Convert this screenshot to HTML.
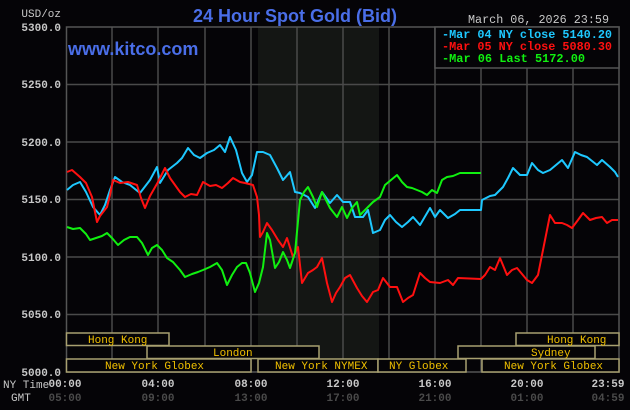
<!DOCTYPE html>
<html><head><meta charset="utf-8"><style>
html,body{margin:0;padding:0;background:#050407;}
svg{display:block}
text{font-family:"Liberation Mono","DejaVu Sans Mono",monospace;}
</style></head><body>
<svg width="630" height="410" xmlns="http://www.w3.org/2000/svg">
<rect width="630" height="410" fill="#050407"/>
<rect x="258" y="27" width="121" height="345" fill="#141614"/>
<g stroke="#4a4a4a" stroke-width="1.5">
<line x1="112" y1="27" x2="112" y2="372"/><line x1="158" y1="27" x2="158" y2="372"/>
<line x1="205" y1="27" x2="205" y2="372"/><line x1="251" y1="27" x2="251" y2="372"/>
<line x1="297" y1="27" x2="297" y2="372"/><line x1="343" y1="27" x2="343" y2="372"/>
<line x1="389" y1="27" x2="389" y2="372"/><line x1="435" y1="27" x2="435" y2="372"/>
<line x1="481" y1="27" x2="481" y2="372"/><line x1="527" y1="27" x2="527" y2="372"/>
<line x1="573" y1="27" x2="573" y2="372"/>
<line x1="66" y1="84.5" x2="619" y2="84.5"/><line x1="66" y1="142" x2="619" y2="142"/>
<line x1="66" y1="199.5" x2="619" y2="199.5"/><line x1="66" y1="257" x2="619" y2="257"/>
<line x1="66" y1="314.5" x2="619" y2="314.5"/>
</g>
<rect x="66.5" y="27" width="552.5" height="345" fill="none" stroke="#555" stroke-width="1.5"/>
<g fill="none" stroke-width="2" stroke-linejoin="round">
<polyline stroke="#1ec8ff" points="67,190 73,185 80,182 86,192 93,207 100,215 105,205 110,190 115,177 122,182 130,185 140,193 150,180 157,167 160,183 168,170 177,163 182,158 188,148 194,155 200,158 207,153 214,150 220,145 225,152 230,137 236,150 242,173 247,182 252,175 257,152 263,152 270,155 277,168 283,180 290,172 295,192 300,193 308,197 315,208 322,192 330,203 337,195 343,202 350,202 355,217 363,217 368,210 373,233 380,230 385,220 390,215 396,222 402,227 408,222 413,217 420,225 430,208 435,217 440,210 448,218 455,214 460,210 481,210 482,200 490,196 495,195 503,187 508,178 513,168 520,175 527,175 532,163 538,170 543,173 550,170 556,165 562,160 568,168 575,152 581,155 587,157 592,161 597,165 602,160 610,167 615,172 618,177"/>
<polyline stroke="#ff1010" points="67,172 72,170 80,177 86,183 92,197 97,222 100,216 107,207 110,195 113,180 120,183 128,182 137,185 141,198 145,208 150,196 158,182 165,168 170,178 175,185 180,192 185,197 191,194 197,195 203,182 210,186 216,185 222,188 228,183 233,178 240,182 245,183 253,185 257,197 259,215 260,237 263,232 267,223 272,230 278,240 283,247 287,238 293,257 298,247 302,283 308,273 313,270 317,267 322,258 327,283 332,302 336,293 340,287 345,278 350,275 357,288 362,296 367,302 373,292 378,290 383,278 390,287 397,287 403,302 408,298 413,295 420,273 425,278 430,282 440,283 448,280 453,285 458,278 481,279 485,275 490,267 495,270 500,258 507,275 512,270 517,268 522,274 527,280 532,283 538,275 542,255 545,240 550,215 555,223 562,223 567,225 572,228 578,220 583,213 590,220 596,218 602,217 607,223 612,220 618,220"/>
<polyline stroke="#10f010" points="67,227 73,229 80,228 86,234 90,240 96,238 102,236 107,233 112,238 118,245 124,240 130,237 137,237 142,243 148,255 152,248 157,245 162,250 167,258 173,262 180,270 185,277 192,274 198,272 203,270 210,267 217,263 222,270 227,285 232,275 237,267 242,263 246,263 250,273 255,292 259,283 263,267 267,233 270,240 275,268 279,262 283,252 287,260 290,268 295,253 300,200 304,192 308,187 313,197 317,207 322,192 326,200 330,208 337,217 342,207 347,218 352,208 357,202 360,215 367,208 373,202 380,197 385,185 391,180 397,175 402,182 407,187 412,188 417,190 422,192 427,195 432,190 437,193 442,180 447,177 453,176 460,173 481,173"/>
</g>
<g fill="#050407" stroke="#a8a070" stroke-width="1.5">
<rect x="66.5" y="333" width="102.5" height="12.5"/>
<rect x="516" y="333" width="103" height="12.5"/>
<rect x="147" y="346" width="172" height="12.5"/>
<rect x="458" y="346" width="137" height="12.5"/>
<rect x="66.5" y="359" width="184.5" height="13"/>
<rect x="258" y="359" width="120" height="13"/>
<rect x="378" y="359" width="88" height="13"/>
<rect x="482" y="359" width="137" height="13"/>
</g>
<g fill="#f0c000" font-size="11">
<text x="88" y="343">Hong Kong</text>
<text x="547" y="343">Hong Kong</text>
<text x="213" y="356">London</text>
<text x="531" y="356">Sydney</text>
<text x="105" y="369">New York Globex</text>
<text x="275" y="369">New York NYMEX</text>
<text x="389" y="369">NY Globex</text>
<text x="504" y="369">New York Globex</text>
</g>
<g fill="#c8c8c8" font-size="11" text-anchor="end" font-weight="bold">
<text x="61" y="31">5300.0</text><text x="61" y="88">5250.0</text>
<text x="61" y="146">5200.0</text><text x="61" y="203">5150.0</text>
<text x="61" y="261">5100.0</text><text x="61" y="318">5050.0</text>
<text x="61" y="376">5000.0</text>
</g>
<text x="61" y="17" fill="#c8c8c8" font-size="11" text-anchor="end">USD/oz</text>
<g fill="#c8c8c8" font-size="11" font-weight="bold" text-anchor="middle">
<text x="65" y="387">00:00</text><text x="158" y="387">04:00</text>
<text x="251" y="387">08:00</text><text x="343" y="387">12:00</text>
<text x="435" y="387">16:00</text><text x="527" y="387">20:00</text>
<text x="608" y="387">23:59</text>
</g>
<g fill="#4a4a4a" font-size="11" font-weight="bold" text-anchor="middle">
<text x="65" y="401">05:00</text><text x="158" y="401">09:00</text>
<text x="251" y="401">13:00</text><text x="343" y="401">17:00</text>
<text x="435" y="401">21:00</text><text x="527" y="401">01:00</text>
<text x="608" y="401">04:59</text>
</g>
<text x="3" y="388" fill="#c8c8c8" font-size="11">NY Time</text>
<text x="11" y="401" fill="#c8c8c8" font-size="11">GMT</text>
<text x="295" y="22" fill="#4a6ee8" font-size="18" font-weight="bold" text-anchor="middle" style="font-family:'Liberation Sans',sans-serif">24 Hour Spot Gold (Bid)</text>
<text x="68" y="55" fill="#4a6ee8" font-size="18" font-weight="bold" style="font-family:'Liberation Sans',sans-serif">www.kitco.com</text>
<text x="468" y="23" fill="#c8c8c8" font-size="11.5" textLength="141" lengthAdjust="spacingAndGlyphs">March 06, 2026 23:59</text>
<rect x="435" y="27" width="184" height="41" fill="#050407" stroke="#555" stroke-width="1.5"/>
<g font-size="11.5" font-weight="bold">
<text x="442" y="38" fill="#1ec8ff" textLength="170" lengthAdjust="spacingAndGlyphs">-Mar 04 NY close 5140.20</text>
<text x="442" y="50" fill="#ff1010" textLength="170" lengthAdjust="spacingAndGlyphs">-Mar 05 NY close 5080.30</text>
<text x="442" y="62" fill="#10f010" textLength="143" lengthAdjust="spacingAndGlyphs">-Mar 06 Last 5172.00</text>
</g>
</svg>
</body></html>
